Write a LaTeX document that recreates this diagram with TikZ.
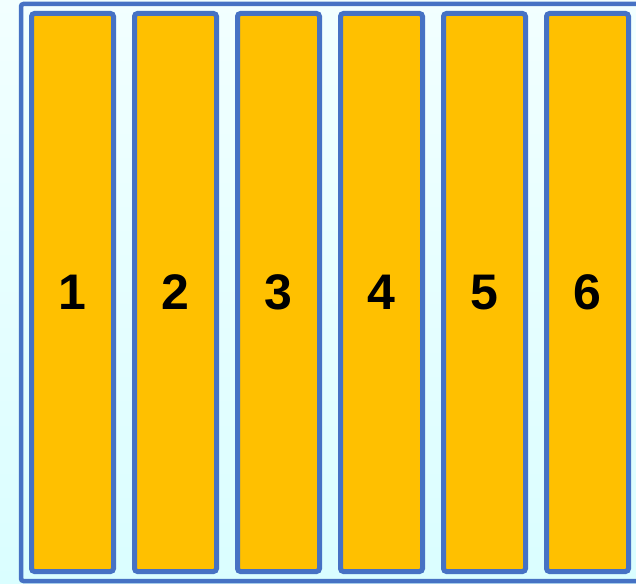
\documentclass[tikz,border=0pt]{standalone}
\usepackage{fontspec}
\setmainfont{Liberation Sans}
\usetikzlibrary{calc}

\definecolor{frameblue}{HTML}{4672C4}
\definecolor{baryellow}{HTML}{FFC000}
\definecolor{bgtop}{HTML}{F2FFFF}
\definecolor{bgbottom}{HTML}{DAFEFF}

\begin{document}
\begin{tikzpicture}[x=1pt,y=-1pt,
  bar/.style={draw=frameblue, line width=5pt, fill=baryellow, rounded corners=3pt,
    minimum width=82pt, minimum height=558pt, inner sep=0pt,
    font=\fontsize{50}{50}\selectfont\bfseries},
  frame/.style={draw=frameblue, line width=4.5pt, rounded corners=2.5pt}]
 \useasboundingbox (0,0) rectangle (636,583);
 \fill[top color=bgtop, bottom color=bgbottom] (0,0) rectangle (636,583);
 \draw[frame] (21,4) rectangle (645,581);
 % six bars
 \foreach \i in {1,...,6}
  \node[bar] (bar\i) at ({72.5+103*(\i-1)},292.5) {\i};
\end{tikzpicture}
\end{document}
